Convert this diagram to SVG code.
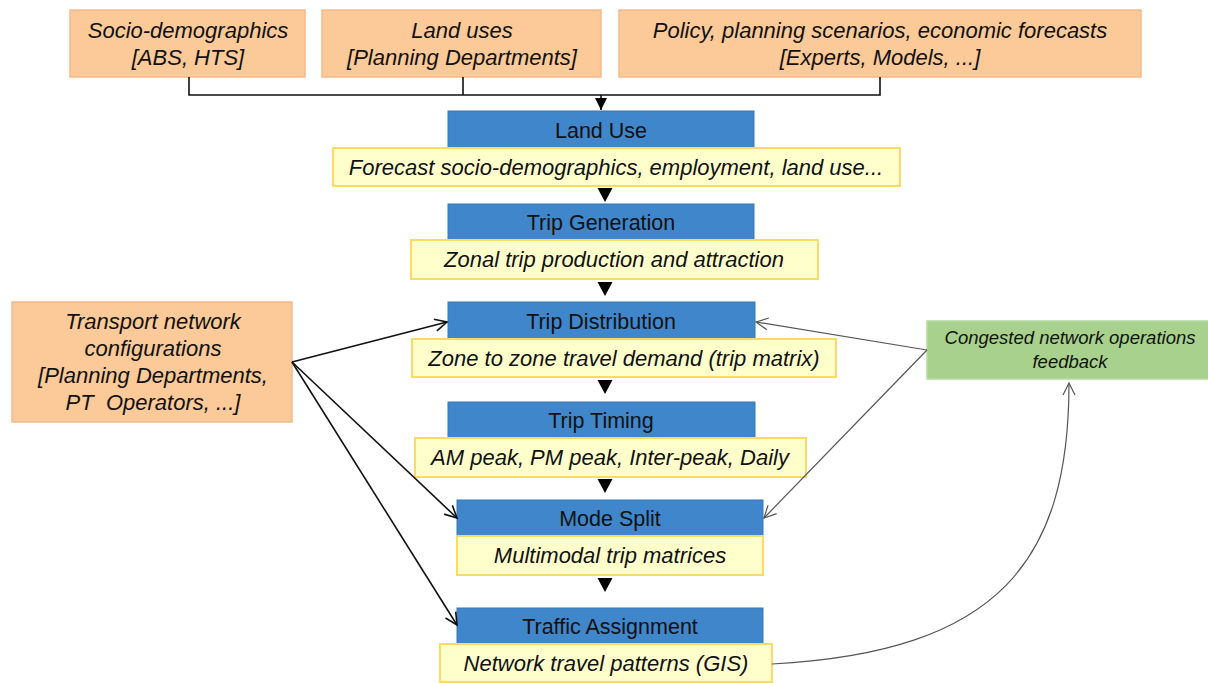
<svg xmlns="http://www.w3.org/2000/svg" width="1208" height="683" viewBox="0 0 1208 683">
  <style>
    text { font-family: "Liberation Sans", Arial, sans-serif; fill: #111; text-anchor: middle; }
    .src rect { fill: #FBCA98; stroke: #F7B98A; stroke-width: 1.5; }
    .src text { font-size: 22px; font-style: italic; }
    .stage rect.title { fill: #3F86CB; stroke: #3A78B6; stroke-width: 1; }
    .stage rect.desc { fill: #FFFFCC; stroke: #FFD966; stroke-width: 2; }
    .stage text.title { font-size: 21.5px; }
    .stage text.desc { font-size: 22px; font-style: italic; }
    .fb rect { fill: #A9D18E; stroke: #B7DBA0; stroke-width: 1.5; }
    .fb text { font-size: 18.5px; font-style: italic; }
    .link { fill: none; stroke: #111; stroke-width: 1.6; }
    .grey { fill: none; stroke: #555; stroke-width: 1.2; }
    .step { fill: #000; }
  </style>
  <defs>
    <marker id="head-solid" markerUnits="userSpaceOnUse" markerWidth="14" markerHeight="14" refX="12" refY="6" orient="auto">
      <path d="M0,0 L12,6 L0,12 Z" fill="#000"/>
    </marker>
    <marker id="head-open" markerUnits="userSpaceOnUse" markerWidth="16" markerHeight="16" refX="13" refY="7" orient="auto">
      <path d="M1,1 L13,7 L1,13" fill="none" stroke="#111" stroke-width="1.6"/>
    </marker>
    <marker id="head-open-grey" markerUnits="userSpaceOnUse" markerWidth="16" markerHeight="16" refX="13" refY="7" orient="auto">
      <path d="M1,1 L13,7 L1,13" fill="none" stroke="#555" stroke-width="1.2"/>
    </marker>
  </defs>

  <!-- input sources -->
  <g id="socio" class="src">
    <rect x="70" y="10" width="235" height="67"/>
    <text x="188" y="38">Socio-demographics</text>
    <text x="188" y="65">[ABS, HTS]</text>
  </g>
  <g id="landuses" class="src">
    <rect x="322" y="10" width="279" height="67"/>
    <text x="462" y="38">Land uses</text>
    <text x="462" y="65">[Planning Departments]</text>
  </g>
  <g id="policy" class="src">
    <rect x="619" y="10" width="522" height="67"/>
    <text x="880" y="38">Policy, planning scenarios, economic forecasts</text>
    <text x="880" y="65">[Experts, Models, ...]</text>
  </g>
  <g id="network" class="src">
    <rect x="12" y="302" width="280" height="120"/>
    <text x="153" y="329">Transport network</text>
    <text x="153" y="356">configurations</text>
    <text x="153" y="383">[Planning Departments,</text>
    <text x="153" y="410" xml:space="preserve">PT  Operators, ...]</text>
  </g>

  <!-- model stages -->
  <g id="stage-landuse" class="stage">
    <rect class="title" x="448" y="111" width="306" height="37"/>
    <text class="title" x="601" y="138">Land Use</text>
    <rect class="desc" x="333" y="148" width="567" height="38"/>
    <text class="desc" x="616" y="175">Forecast socio-demographics, employment, land use...</text>
  </g>
  <g id="stage-generation" class="stage">
    <rect class="title" x="448" y="204" width="306" height="36"/>
    <text class="title" x="601" y="230">Trip Generation</text>
    <rect class="desc" x="411" y="240" width="407" height="39"/>
    <text class="desc" x="614" y="267">Zonal trip production and attraction</text>
  </g>
  <g id="stage-distribution" class="stage">
    <rect class="title" x="448" y="302" width="307" height="37"/>
    <text class="title" x="601" y="329">Trip Distribution</text>
    <rect class="desc" x="412" y="339" width="424" height="38"/>
    <text class="desc" x="624" y="366">Zone to zone travel demand (trip matrix)</text>
  </g>
  <g id="stage-timing" class="stage">
    <rect class="title" x="448" y="402" width="307" height="36"/>
    <text class="title" x="601" y="428">Trip Timing</text>
    <rect class="desc" x="415" y="438" width="391" height="39"/>
    <text class="desc" x="610" y="465">AM peak, PM peak, Inter-peak, Daily</text>
  </g>
  <g id="stage-mode" class="stage">
    <rect class="title" x="457" y="500" width="306" height="36"/>
    <text class="title" x="610" y="526">Mode Split</text>
    <rect class="desc" x="457" y="536" width="306" height="39"/>
    <text class="desc" x="610" y="563">Multimodal trip matrices</text>
  </g>
  <g id="stage-assignment" class="stage">
    <rect class="title" x="457" y="608" width="306" height="36"/>
    <text class="title" x="610" y="634">Traffic Assignment</text>
    <rect class="desc" x="440" y="644" width="332" height="38"/>
    <text class="desc" x="606" y="671">Network travel patterns (GIS)</text>
  </g>

  <!-- feedback -->
  <g id="feedback" class="fb">
    <rect x="927" y="321" width="285" height="58"/>
    <text x="1070" y="344">Congested network operations</text>
    <text x="1070" y="368">feedback</text>
  </g>

  <!-- connectors -->
  <g id="connectors">
    <path class="link" d="M189,77 V95 H880 V77 M463,77 V95"/>
    <path class="link" d="M601,95 V110" marker-end="url(#head-solid)"/>

    <polygon class="step" points="597.5,188 612.5,188 605,202"/>
    <polygon class="step" points="597.5,282 612.5,282 605,296"/>
    <polygon class="step" points="597.5,380 612.5,380 605,394"/>
    <polygon class="step" points="597.5,479 612.5,479 605,493"/>
    <polygon class="step" points="597.5,578 612.5,578 605,592"/>

    <path class="link" d="M292,362 L447,322" marker-end="url(#head-open)"/>
    <path class="link" d="M292,362 L457,518" marker-end="url(#head-open)"/>
    <path class="link" d="M292,362 L457,625" marker-end="url(#head-open)"/>

    <path class="grey" d="M927,350 L756,322" marker-end="url(#head-open-grey)"/>
    <path class="grey" d="M927,350 L764,518" marker-end="url(#head-open-grey)"/>
    <path class="grey" d="M772,664 C1000,652 1069,560 1069,383" marker-end="url(#head-open-grey)"/>
  </g>
</svg>
